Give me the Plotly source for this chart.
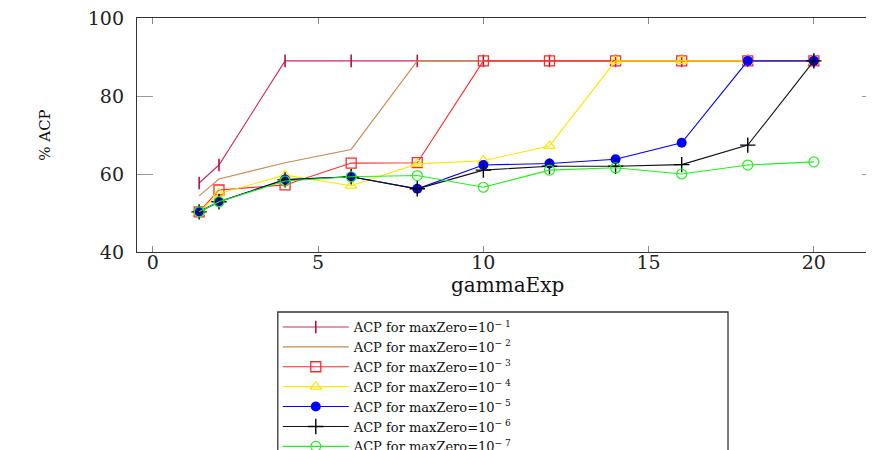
import plotly.graph_objects as go

gamma = [1.4, 2, 4, 6, 8, 10, 12, 14, 16, 18, 20]
acp_1 = [57.7, 62.3, 89, 89, 89, 89, 89, 89, 89, 89, 89]
acp_2 = [54.4, 58.7, 62.9, 66.3, 89, 89, 89, 89, 89, 89, 89]
acp_3 = [50.3, 55.9, 57.2, 62.8, 62.9, 89, 89, 89, 89, 89, 89]
acp_4 = [50.3, 55.0, 59.7, 57.0, 62.6, 63.4, 67.2, 89, 89, 89, 89]
acp_5 = [50.3, 52.9, 58.6, 59.3, 56.2, 62.3, 62.7, 63.8, 68.0, 89, 89]
acp_6 = [50.3, 52.9, 58.5, 59.3, 56.2, 61.0, 62.0, 62.0, 62.4, 67.4, 89]
acp_7 = [50.3, 52.9, 58.2, 59.3, 59.6, 56.6, 61.0, 61.6, 60.0, 62.3, 63.1]

names = ["ACP for maxZero=10<sup>\u2212 1</sup>", "ACP for maxZero=10<sup>\u2212 2</sup>",
         "ACP for maxZero=10<sup>\u2212 3</sup>", "ACP for maxZero=10<sup>\u2212 4</sup>",
         "ACP for maxZero=10<sup>\u2212 5</sup>", "ACP for maxZero=10<sup>\u2212 6</sup>",
         "ACP for maxZero=10<sup>\u2212 7</sup>"]
series = [acp_1, acp_2, acp_3, acp_4, acp_5, acp_6, acp_7]
colors = ["#cc2a5e", "#c68a55", "#ff2a2a", "#ffe600", "#0000ff", "#111111", "#22ee22"]
markers = [
    dict(symbol="line-ns", size=9, line=dict(width=1.6, color="#b5104a")),
    dict(size=0.1, opacity=0),
    dict(symbol="square-open", size=10, line=dict(width=1.3, color="#ff1a1a")),
    dict(symbol="triangle-up-open", size=10, line=dict(width=1.2, color="#ffdd00")),
    dict(symbol="circle", size=10, color="#0000ff"),
    dict(symbol="cross-thin", size=11, line=dict(width=1.4, color="#000000")),
    dict(symbol="circle-open", size=10, line=dict(width=1.2, color="#22ee22")),
]

fig = go.Figure()
for s, n, c, m in zip(series, names, colors, markers):
    mode = "lines" if m.get("opacity") == 0 else "lines+markers"
    fig.add_trace(go.Scatter(x=gamma, y=s, name=n, mode=mode,
                             line=dict(color=c, width=1.1),
                             marker=m if mode != "lines" else None))

tickfont = dict(family="DejaVu Serif", size=19, color="#222")
fig.update_layout(
    width=874, height=450,
    margin=dict(l=129, r=4, t=10, b=206, autoexpand=False),
    plot_bgcolor="white", paper_bgcolor="white",
    font=dict(family="DejaVu Serif", color="#111"),
    xaxis=dict(range=[-0.48, 21.94], tickvals=[0, 5, 10, 15, 20],
               ticks="inside", ticklen=6, tickcolor="#888", tickwidth=1.2,
               showline=True, linecolor="#333", linewidth=1.3, mirror="ticks",
               showgrid=False, zeroline=False, tickfont=tickfont, automargin=False,
               ticklabelstandoff=-7, ticklabeloverflow="allow"),
    yaxis=dict(range=[40, 100], tickvals=[40, 60, 80, 100],
               ticks="inside", ticklen=16, tickcolor="#999", tickwidth=1.2,
               showline=True, linecolor="#333", linewidth=1.3, mirror="ticks",
               showgrid=False, zeroline=False, tickfont=tickfont, automargin=False,
               ticklabelstandoff=8, ticklabeloverflow="allow",
               title=dict(text="% ACP", font=dict(family="DejaVu Serif", size=15),
                          standoff=33)),
    annotations=[dict(text="gammaExp", xref="paper", yref="paper", x=0.5, y=-0.141,
                      xanchor="center", yanchor="middle", showarrow=False,
                      font=dict(family="DejaVu Serif", size=20, color="#111"))],
    legend=dict(x=0.190, y=-0.2564, xanchor="left", yanchor="top",
                bgcolor="rgba(255,255,255,0)", borderwidth=0,
                font=dict(family="DejaVu Serif", size=13, color="#111"),
                itemwidth=66, tracegroupgap=0),
    shapes=[dict(type="rect", xref="paper", yref="paper",
                 x0=0.190, x1=0.7976, y0=-0.2564, y1=-1.2,
                 line=dict(color="#333", width=1.3), fillcolor="rgba(0,0,0,0)",
                 layer="below")],
    showlegend=True,
)

fig.write_html("out.html")
